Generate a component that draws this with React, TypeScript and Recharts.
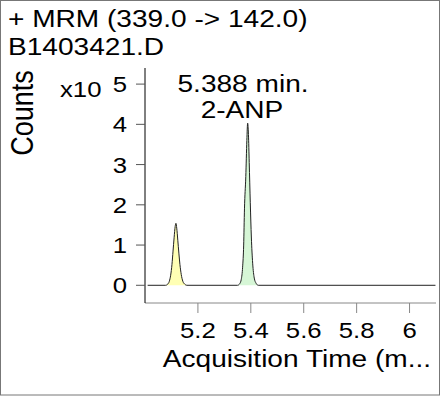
import React from 'react';
import { ComposedChart, Line, Area, XAxis, YAxis } from 'recharts';

// chromatogram (counts in units of 10^5)
const baselineTime = [5.01, 6.098];
const baselineCounts = [0, 0];

const peak1Time = [5.078, 5.086, 5.092, 5.097, 5.102, 5.106, 5.11, 5.114, 5.117, 5.12, 5.124, 5.128, 5.132, 5.137, 5.143, 5.15, 5.158];
const peak1Counts = [0, 0.03, 0.1, 0.25, 0.52, 0.85, 1.18, 1.46, 1.54, 1.42, 1.12, 0.8, 0.52, 0.27, 0.1, 0.03, 0];

const peak2Time = [5.35, 5.358, 5.364, 5.369, 5.373, 5.376, 5.381, 5.385, 5.388, 5.391, 5.394, 5.398, 5.402, 5.407, 5.413, 5.42, 5.428];
const peak2Counts = [0, 0.04, 0.15, 0.45, 1.0, 1.9, 2.7, 3.6, 4.03, 3.75, 3.05, 2.05, 1.2, 0.55, 0.18, 0.05, 0];

const xTicks = [5.2, 5.4, 5.6, 5.8, 6];
const yTicks = [0, 1, 2, 3, 4, 5];

const toRows = (t: number[], c: number[]) => t.map((time, i) => ({ time, counts: c[i] }));

const peak1 = toRows(peak1Time, peak1Counts);
const peak2 = toRows(peak2Time, peak2Counts);
const trace = [
  ...toRows(baselineTime.slice(0, 1), baselineCounts.slice(0, 1)),
  ...peak1,
  ...peak2,
  ...toRows(baselineTime.slice(1), baselineCounts.slice(1)),
];

const FONT = '"Liberation Sans", Arial, sans-serif';
const SX = 1.17; // text in the original is stretched horizontally

function SText({ x, y, size, anchor = 'start', rotate = false, children }: any) {
  return (
    <text
      transform={`translate(${x},${y}) scale(${SX},1)${rotate ? ' rotate(-90)' : ''}`}
      fontSize={size}
      textAnchor={anchor}
      fontFamily={FONT}
      fill="#000"
    >
      {children}
    </text>
  );
}

const XTick = ({ x, y, payload }: any) => (
  <SText x={x} y={y + 25} size={22} anchor="middle">{payload.value}</SText>
);

const YTick = ({ x, y, payload }: any) => (
  <SText x={x} y={y + 8} size={22} anchor="end">{payload.value}</SText>
);

export default function App() {
  return (
    <div style={{ position: 'absolute', left: 0, top: 0, width: 440, height: 396, background: '#fff' }}>
      <ComposedChart width={440} height={396} margin={{ top: 68, right: 4, bottom: 0, left: 0 }}>
        <XAxis
          type="number"
          dataKey="time"
          domain={[5.0, 6.1]}
          ticks={xTicks}
          allowDataOverflow
          height={93}
          axisLine={{ stroke: '#888' }}
          tickLine={{ stroke: '#888' }}
          tickSize={10}
          tickMargin={0}
          tick={XTick}
        />
        <YAxis
          type="number"
          domain={[-0.44, 5.4]}
          ticks={yTicks}
          allowDataOverflow
          width={145}
          axisLine={{ stroke: '#000' }}
          tickLine={{ stroke: '#555' }}
          tickSize={9}
          tickMargin={9}
          tick={YTick}
        />
        <Area data={peak1} dataKey="counts" type="monotone" baseValue={0} fill="#ffffb4" fillOpacity={1} stroke="none" isAnimationActive={false} />
        <Area data={peak2} dataKey="counts" type="monotone" baseValue={0} fill="#d6f6d6" fillOpacity={1} stroke="none" isAnimationActive={false} />
        <Line data={trace} dataKey="counts" type="monotone" stroke="#222" strokeWidth={1} dot={false} isAnimationActive={false} />
      </ComposedChart>
      <svg width={440} height={396} style={{ position: 'absolute', left: 0, top: 0, pointerEvents: 'none' }}>
        <rect x={0.5} y={0.5} width={439} height={394.5} fill="none" stroke="#777" />
        <SText x={8} y={27} size={24}>+ MRM (339.0 -&gt; 142.0)</SText>
        <SText x={8} y={55} size={24}>B1403421.D</SText>
        <SText x={33} y={113} size={27} anchor="middle" rotate>Counts</SText>
        <SText x={60} y={97} size={22}>x10</SText>
        <SText x={243} y={92} size={24} anchor="middle">5.388 min.</SText>
        <SText x={242} y={118} size={24} anchor="middle">2-ANP</SText>
        <SText x={297} y={367} size={24} anchor="middle">Acquisition Time (m...</SText>
      </svg>
    </div>
  );
}
